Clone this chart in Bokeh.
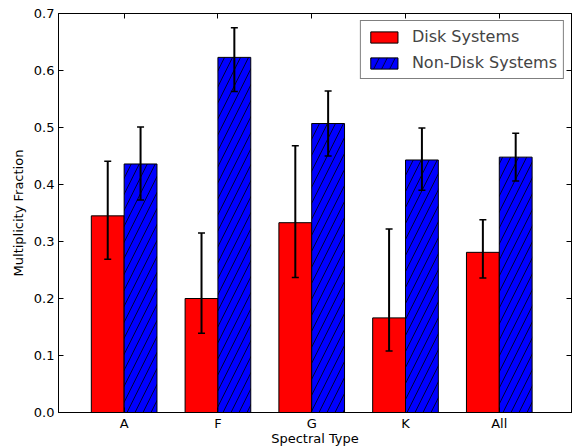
from bokeh.plotting import figure
from bokeh.models import (ColumnDataSource, FixedTicker, LinearAxis, Whisker, TeeHead,
                          Range1d, Legend, LegendItem, PrintfTickFormatter, CustomJSTickFormatter)
from bokeh.embed import file_html
from bokeh.resources import INLINE

categories = ["A", "F", "G", "K", "All"]
disk = [0.345, 0.200, 0.333, 0.166, 0.281]
disk_hi = [0.441, 0.315, 0.468, 0.322, 0.338]
disk_lo = [0.269, 0.139, 0.237, 0.108, 0.236]
nondisk = [0.436, 0.623, 0.507, 0.443, 0.448]
nondisk_hi = [0.501, 0.675, 0.564, 0.499, 0.490]
nondisk_lo = [0.373, 0.563, 0.450, 0.390, 0.406]
y_ticks = [0.0, 0.1, 0.2, 0.3, 0.4, 0.5, 0.6, 0.7]

W = 0.35
xs = list(range(len(categories)))
FONT = "DejaVu Sans"

p = figure(width=572, height=448, output_backend="svg", toolbar_location=None,
           x_range=Range1d(-0.7, 4.77), y_range=Range1d(0, 0.7),
           min_border_left=58, min_border_right=1, min_border_top=13, min_border_bottom=36)
p.grid.visible = False
p.outline_line_color = "black"
p.outline_line_width = 1
p.background_fill_color = "white"
p.border_fill_color = "white"

src_d = ColumnDataSource(dict(x=[x - W / 2 for x in xs], top=disk, hi=disk_hi, lo=disk_lo))
src_n = ColumnDataSource(dict(x=[x + W / 2 for x in xs], top=nondisk, hi=nondisk_hi, lo=nondisk_lo))

rd = p.vbar(x="x", top="top", width=W, source=src_d, fill_color="red", line_color="black", line_width=1)
rn = p.vbar(x="x", top="top", width=W, source=src_n, fill_color="blue", line_color="black", line_width=1,
            hatch_pattern="/", hatch_color="black", hatch_scale=16, hatch_weight=0.8)

for src in (src_d, src_n):
    w = Whisker(base="x", upper="hi", lower="lo", source=src, line_color="black", line_width=2,
                level="overlay",
                upper_head=TeeHead(size=7, line_width=1.5, line_color="black"),
                lower_head=TeeHead(size=7, line_width=1.5, line_color="black"))
    p.add_layout(w)

# axes
xa = p.xaxis[0]
xa.ticker = FixedTicker(ticks=xs)
xa.major_label_overrides = {i: c for i, c in enumerate(categories)}
xa.axis_label = "Spectral Type"
ya = p.yaxis[0]
ya.ticker = FixedTicker(ticks=y_ticks)
ya.formatter = PrintfTickFormatter(format="%.1f")
ya.axis_label = "Multiplicity Fraction"

for ax in (xa, ya):
    ax.major_tick_in = 5
    ax.major_tick_out = 0
    ax.minor_tick_in = 0
    ax.minor_tick_out = 0
    ax.axis_line_color = "black"
    ax.major_label_text_font = FONT
    ax.major_label_text_font_size = "13px"
    ax.major_label_text_color = "black"
    ax.axis_label_text_font = FONT
    ax.axis_label_text_font_size = "13px"
    ax.axis_label_text_font_style = "normal"
    ax.axis_label_text_color = "black"
xa.major_label_standoff = 3
xa.axis_label_standoff = -3
ya.major_label_standoff = 4
ya.axis_label_standoff = 5

top_ax = LinearAxis(ticker=FixedTicker(ticks=xs), formatter=CustomJSTickFormatter(code="return ''"),
                    major_tick_in=5, major_tick_out=0, minor_tick_in=0, minor_tick_out=0)
right_ax = LinearAxis(ticker=FixedTicker(ticks=y_ticks), formatter=CustomJSTickFormatter(code="return ''"),
                      major_tick_in=5, major_tick_out=0, minor_tick_in=0, minor_tick_out=0)
p.add_layout(top_ax, "above")
p.add_layout(right_ax, "right")

legend = Legend(items=[LegendItem(label="Disk Systems", renderers=[rd]),
                       LegendItem(label="Non-Disk Systems", renderers=[rn])],
                location="top_right")
legend.label_text_font = FONT
legend.label_text_font_size = "16px"
legend.border_line_color = "black"
legend.border_line_width = 1
legend.glyph_width = 34
legend.glyph_height = 14
legend.label_standoff = 11
legend.spacing = 7
legend.padding = 6
legend.margin = 7
legend.background_fill_alpha = 1.0
p.add_layout(legend)

open("out.html", "w").write(file_html(p, INLINE))
